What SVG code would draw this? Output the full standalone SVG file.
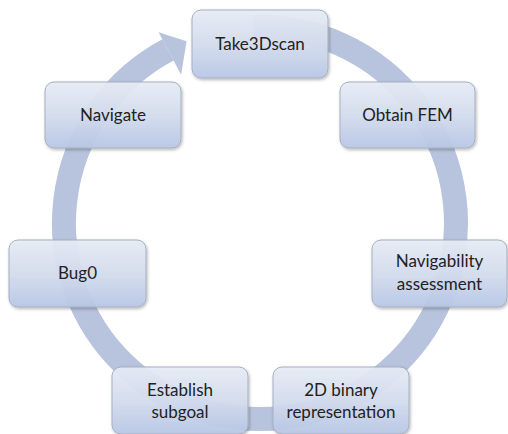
<svg xmlns="http://www.w3.org/2000/svg" width="508" height="434" viewBox="0 0 508 434">
  <defs>
    <linearGradient id="boxGrad" x1="0" y1="0" x2="0" y2="1">
      <stop offset="0" stop-color="#e7edf6"/>
      <stop offset="0.5" stop-color="#d5deef"/>
      <stop offset="1" stop-color="#b9c8e6"/>
    </linearGradient>
    <filter id="shadow" x="-10%" y="-10%" width="125%" height="130%">
      <feDropShadow dx="1" dy="1.5" stdDeviation="1.5" flood-color="#000" flood-opacity="0.3"/>
    </filter>
  </defs>
  <style>
    .ring { fill: none; stroke: #b8c4dd; stroke-width: 24; }
    .head { fill: #b8c4dd; }
    .box { fill: url(#boxGrad); fill-opacity: 0.93; stroke: #a4aec0; stroke-width: 1; filter: url(#shadow); }
    .lbl { font-family: Lato, "Open Sans", "Liberation Sans", sans-serif; font-size: 17px; fill: #222; text-anchor: middle; }
  </style>
  <rect width="508" height="434" fill="#ffffff"/>
  <g id="connectors">
    <path class="ring" d="M 253.2 27.1 A 196 196 0 1 1 168.0 49.9"/>
    <polygon class="head" points="158.6,32.3 186.6,41.3 181.1,74.7"/>
  </g>
  <g id="take3dscan">
    <rect class="box" x="192" y="10" width="136" height="68" rx="9"/>
    <text class="lbl" x="260" y="50">Take3Dscan</text>
  </g>
  <g id="obtain-fem">
    <rect class="box" x="340" y="82" width="135" height="66" rx="9"/>
    <text class="lbl" x="407.5" y="121">Obtain FEM</text>
  </g>
  <g id="navigability">
    <rect class="box" x="372" y="240" width="135" height="67" rx="9"/>
    <text class="lbl" x="439.5" y="267">Navigability</text>
    <text class="lbl" x="439.5" y="290">assessment</text>
  </g>
  <g id="binary">
    <rect class="box" x="273" y="367" width="136" height="67" rx="9"/>
    <text class="lbl" x="341" y="396">2D binary</text>
    <text class="lbl" x="341" y="418">representation</text>
  </g>
  <g id="subgoal">
    <rect class="box" x="112" y="367" width="136" height="67" rx="9"/>
    <text class="lbl" x="180" y="396">Establish</text>
    <text class="lbl" x="180" y="418">subgoal</text>
  </g>
  <g id="bug0">
    <rect class="box" x="9" y="240" width="137" height="67" rx="9"/>
    <text class="lbl" x="77.5" y="279">Bug0</text>
  </g>
  <g id="navigate">
    <rect class="box" x="45" y="82" width="136" height="66" rx="9"/>
    <text class="lbl" x="113" y="121">Navigate</text>
  </g>
</svg>
